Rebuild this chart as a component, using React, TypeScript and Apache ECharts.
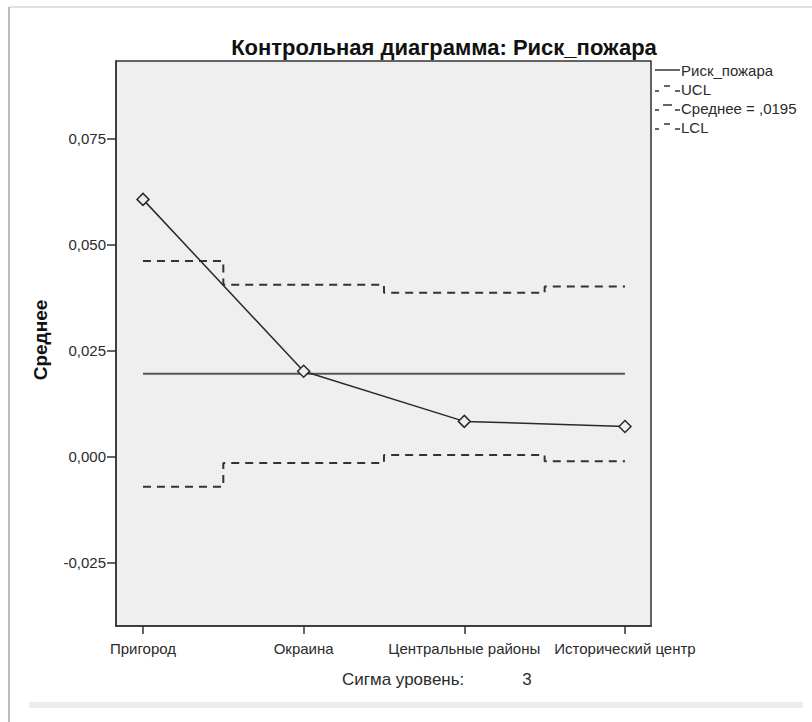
import React, { useEffect, useRef } from 'react';
import * as echarts from 'echarts';

const categories = ['Пригород', 'Окраина', 'Центральные районы', 'Исторический центр'];
const categoryPositions = [1, 2, 3, 4];
const riskValues = [0.0606, 0.0201, 0.0083, 0.0071];
const uclValues = [0.0461, 0.0405, 0.0386, 0.0401];
const lclValues = [-0.0071, -0.0015, 0.0004, -0.0011];
const meanValue = 0.0195;
const yTickValues = [-0.025, 0, 0.025, 0.05, 0.075];
const sigmaLevel = 3;
const titleText = 'Контрольная диаграмма: Риск_пожара';
const yAxisTitle = 'Среднее';
const legendLabels = ['Риск_пожара', 'UCL', 'Среднее = ,0195', 'LCL'];

const FONT = '"Liberation Sans", Arial, sans-serif';
const TEXT = '#2b2b2b';
const LINE = '#2a2a2a';

export default function App() {
  const ref = useRef<HTMLDivElement>(null);
  useEffect(() => {
    if (!ref.current) return;
    const chart = echarts.init(ref.current, null, { renderer: 'svg' });
    const pts = (vals: number[]) => categoryPositions.map((x, i) => [x, vals[i]]);
    const lx = 655;
    const rows = [70, 89, 108, 127];
    const dash = (x1: number, y1: number, x2: number, y2: number) => ({
      type: 'line', shape: { x1, y1, x2, y2 }, style: { stroke: '#333', lineWidth: 1.5 },
    });
    const limitIcon = (y: number) => [dash(lx, y + 2, lx + 4, y + 2), dash(lx + 9, y - 3, lx + 15, y - 3), dash(lx + 20, y + 2, lx + 25, y + 2)];
    const meanIcon = (y: number) => [dash(lx, y + 2, lx + 4, y + 2), dash(lx + 8, y - 3, lx + 17, y - 3), dash(lx + 20, y + 2, lx + 25, y + 2)];
    const legendText = (y: number, t: string) => ({
      type: 'text', x: lx + 26, y, style: { text: t, font: `15px ${FONT}`, fill: TEXT, textVerticalAlign: 'middle' },
    });
    const option: any = {
      animation: false,
      backgroundColor: '#ffffff',
      title: {
        text: titleText,
        left: 439,
        top: 31,
        textAlign: 'center',
        textStyle: { fontFamily: FONT, fontSize: 22, fontWeight: 'bold', color: '#111' },
      },
      grid: {
        left: 116, top: 61, right: 161, bottom: 96,
        show: true, backgroundColor: '#efefef', borderColor: '#333', borderWidth: 1.5,
      },
      xAxis: {
        type: 'value',
        min: 0.832,
        max: 4.162,
        splitLine: { show: false },
        axisLine: { show: true, onZero: false, lineStyle: { color: '#333', width: 1.5 } },
        axisTick: { show: true, length: 8, lineStyle: { color: '#333', width: 1.5 }, customValues: categoryPositions },
        axisLabel: {
          customValues: categoryPositions,
          margin: 15,
          fontFamily: FONT, fontSize: 15, color: TEXT,
          formatter: (v: number) => categories[Math.round(v) - 1] ?? '',
        },
      },
      yAxis: {
        type: 'value',
        min: -0.0399,
        max: 0.0932,
        splitLine: { show: false },
        axisLine: { show: true, onZero: false, lineStyle: { color: '#333', width: 1.5 } },
        axisTick: { show: true, length: 9, lineStyle: { color: '#333', width: 1.5 }, customValues: yTickValues },
        axisLabel: {
          customValues: yTickValues,
          margin: 10,
          fontFamily: FONT, fontSize: 15, color: TEXT,
          formatter: (v: number) => v.toFixed(3).replace('.', ','),
        },
      },
      series: [
        {
          name: 'mean', type: 'line', symbol: 'none', z: 2,
          data: [[categoryPositions[0], meanValue], [categoryPositions[categoryPositions.length - 1], meanValue]],
          lineStyle: { color: '#555', width: 2 },
        },
        {
          name: 'UCL', type: 'line', step: 'middle', symbol: 'none', z: 3,
          data: pts(uclValues),
          lineStyle: { color: '#333', width: 2, type: [8, 6] },
        },
        {
          name: 'LCL', type: 'line', step: 'middle', symbol: 'none', z: 3,
          data: pts(lclValues),
          lineStyle: { color: '#333', width: 2, type: [8, 6] },
        },
        {
          name: 'Риск_пожара', type: 'line', symbol: 'diamond', symbolSize: 12, z: 5,
          data: pts(riskValues),
          lineStyle: { color: LINE, width: 1.5 },
          itemStyle: { color: '#efefef', borderColor: LINE, borderWidth: 1.5 },
        },
      ],
      graphic: [
        { type: 'line', shape: { x1: 9, y1: 7, x2: 812, y2: 7 }, style: { stroke: '#c4c4c4', lineWidth: 1 } },
        { type: 'line', shape: { x1: 9, y1: 7, x2: 9, y2: 722 }, style: { stroke: '#bdbdbd', lineWidth: 2 } },
        { type: 'rect', shape: { x: 29, y: 702, width: 774, height: 6 }, style: { fill: '#ececec' } },
        {
          type: 'text', x: 40, y: 340, rotation: Math.PI / 2,
          style: { text: yAxisTitle, font: `bold 19px ${FONT}`, fill: '#111', textAlign: 'center', textVerticalAlign: 'middle' },
        },
        {
          type: 'text', x: 342, y: 679,
          style: { text: 'Сигма уровень:', font: `17px ${FONT}`, fill: TEXT, textVerticalAlign: 'middle' },
        },
        {
          type: 'text', x: 527, y: 679,
          style: { text: String(sigmaLevel), font: `17px ${FONT}`, fill: TEXT, textAlign: 'center', textVerticalAlign: 'middle' },
        },
        { type: 'line', shape: { x1: lx, y1: rows[0], x2: lx + 25, y2: rows[0] }, style: { stroke: '#333', lineWidth: 1.5 } },
        legendText(rows[0], legendLabels[0]),
        ...limitIcon(rows[1]),
        legendText(rows[1], legendLabels[1]),
        ...meanIcon(rows[2]),
        legendText(rows[2], legendLabels[2]),
        ...limitIcon(rows[3]),
        legendText(rows[3], legendLabels[3]),
      ],
    };
    chart.setOption(option);
    return () => chart.dispose();
  }, []);
  return <div ref={ref} style={{ position: 'fixed', left: 0, top: 0, width: 812, height: 722 }} />;
}
